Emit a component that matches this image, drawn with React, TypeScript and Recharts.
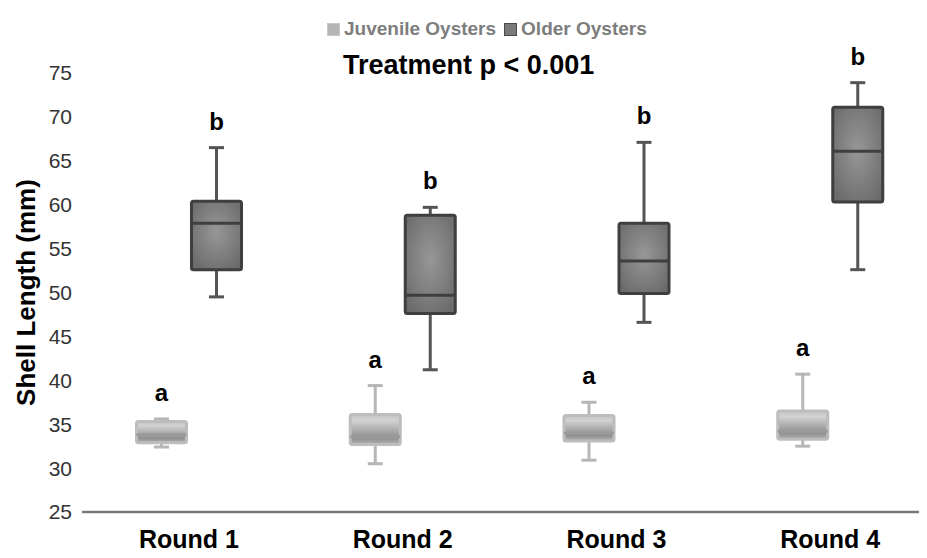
import React from 'react';
import { ComposedChart, Bar, XAxis, YAxis, Legend, LabelList } from 'recharts';

const categories = ['Round 1', 'Round 2', 'Round 3', 'Round 4'];

// box plot stats (mm)
const juvenileMin = [32.4, 30.5, 30.9, 32.5];
const juvenileQ1 = [32.9, 32.7, 33.1, 33.3];
const juvenileMedian = [33.8, 33.6, 34.0, 34.2];
const juvenileQ3 = [35.3, 36.1, 36.0, 36.5];
const juvenileMax = [35.6, 39.4, 37.5, 40.7];

const olderMin = [49.5, 41.2, 46.6, 52.6];
const olderQ1 = [52.6, 47.6, 49.9, 60.3];
const olderMedian = [57.9, 49.7, 53.6, 66.1];
const olderQ3 = [60.4, 58.8, 57.9, 71.1];
const olderMax = [66.5, 59.7, 67.1, 73.9];

const juvenileLetters = ['a', 'a', 'a', 'a'];
const olderLetters = ['b', 'b', 'b', 'b'];

const yTicks = [25, 30, 35, 40, 45, 50, 55, 60, 65, 70, 75];

const data = categories.map((round, i) => ({
  round,
  juvenileRange: [juvenileMin[i], juvenileMax[i]],
  juvenileMin: juvenileMin[i],
  juvenileQ1: juvenileQ1[i],
  juvenileMedian: juvenileMedian[i],
  juvenileQ3: juvenileQ3[i],
  juvenileMax: juvenileMax[i],
  juvenileLetter: juvenileLetters[i],
  olderRange: [olderMin[i], olderMax[i]],
  olderMin: olderMin[i],
  olderQ1: olderQ1[i],
  olderMedian: olderMedian[i],
  olderQ3: olderQ3[i],
  olderMax: olderMax[i],
  olderLetter: olderLetters[i],
}));

const styles = {
  juvenile: { fill: 'url(#juvGrad)', stroke: '#bdbdbd', whisker: '#b6b6b6', median: '#9a9a9a' },
  older: { fill: 'url(#oldGrad)', stroke: '#3f3f3f', whisker: '#555555', median: '#3f3f3f' },
};

const makeBox = (kind: 'juvenile' | 'older') => (props: any) => {
  const { x, y, width, height, payload } = props;
  const top = Math.min(y, y + height);
  const bottom = Math.max(y, y + height);
  const lo = payload[kind + 'Min'];
  const hi = payload[kind + 'Max'];
  const toY = (v: number) => top + ((hi - v) / (hi - lo)) * (bottom - top);
  const s = styles[kind];
  const cx = x + width / 2;
  const q1 = toY(payload[kind + 'Q1']);
  const q3 = toY(payload[kind + 'Q3']);
  const med = toY(payload[kind + 'Median']);
  const cap = 7.5;
  return (
    <g>
      <line x1={cx} x2={cx} y1={top} y2={q3} stroke={s.whisker} strokeWidth={3} />
      <line x1={cx} x2={cx} y1={q1} y2={bottom} stroke={s.whisker} strokeWidth={3} />
      <line x1={cx - cap} x2={cx + cap} y1={top} y2={top} stroke={s.whisker} strokeWidth={3} />
      <line x1={cx - cap} x2={cx + cap} y1={bottom} y2={bottom} stroke={s.whisker} strokeWidth={3} />
      <rect x={x + 1.5} y={q3} width={width - 3} height={q1 - q3} rx={2} fill={s.fill} stroke={s.stroke} strokeWidth={3} />
      <line x1={x + 1.5} x2={x + width - 1.5} y1={med} y2={med} stroke={s.median} strokeWidth={3} />
    </g>
  );
};

const LegendContent = () => (
  <div style={{ display: 'flex', alignItems: 'center', fontWeight: 700, fontSize: 19, color: '#7d7d7d', whiteSpace: 'nowrap' }}>
    <span style={{ width: 11, height: 11, background: '#b5b5b5', border: '1.5px solid #c8c8c8', marginRight: 4 }} />
    <span style={{ marginRight: 8 }}>Juvenile Oysters</span>
    <span style={{ width: 11, height: 11, background: '#7a7a7a', border: '1.5px solid #4a4a4a', marginRight: 4 }} />
    <span>Older Oysters</span>
  </div>
);

export default function App() {
  return (
    <div style={{ position: 'relative', width: 927, height: 558, overflow: 'hidden', margin: -8, background: '#fff', fontFamily: '"Liberation Sans", Arial, sans-serif' }}>
      <div style={{ position: 'absolute', left: 343, top: 50, fontSize: 27, fontWeight: 700, color: '#000', zIndex: 2 }}>
        Treatment p &lt; 0.001
      </div>
      <ComposedChart
        width={940}
        height={558}
        data={data}
        margin={{ top: 73, right: 3, bottom: 6, left: 22 }}
        barSize={53}
        barGap={2}
      >
        <defs>
          <linearGradient id="juvGrad" x1="0" y1="0" x2="0" y2="1">
            <stop offset="0%" stopColor="#c4c4c4" />
            <stop offset="20%" stopColor="#d2d2d2" />
            <stop offset="45%" stopColor="#b4b4b4" />
            <stop offset="78%" stopColor="#8f8f8f" />
            <stop offset="100%" stopColor="#b0b0b0" />
          </linearGradient>
          <radialGradient id="oldGrad" cx="50%" cy="45%" r="65%">
            <stop offset="0%" stopColor="#979797" />
            <stop offset="100%" stopColor="#6b6b6b" />
          </radialGradient>
        </defs>
        <XAxis
          dataKey="round"
          height={40}
          tickLine={false}
          tickMargin={12}
          axisLine={{ stroke: '#777777', strokeWidth: 2.5 }}
          tick={{ fill: '#000', fontSize: 25, fontWeight: 700 }}
        />
        <YAxis
          width={60}
          domain={[25, 75]}
          ticks={yTicks}
          interval={0}
          axisLine={false}
          tickLine={false}
          tickMargin={4}
          tick={{ fill: '#333333', fontSize: 21 }}
          label={{ value: 'Shell Length (mm)', angle: -90, position: 'insideLeft', offset: 4, style: { textAnchor: 'middle', fontWeight: 700, fontSize: 26, fill: '#000' } }}
        />
        <Legend
          layout="horizontal"
          verticalAlign="middle"
          align="center"
          wrapperStyle={{ top: 18, left: 327, width: 360 }}
          content={LegendContent}
        />
        <Bar dataKey="juvenileRange" name="Juvenile Oysters" shape={makeBox('juvenile')} isAnimationActive={false}>
          <LabelList dataKey="juvenileLetter" position="top" offset={18} fill="#000" fontSize={24} fontWeight={700} />
        </Bar>
        <Bar dataKey="olderRange" name="Older Oysters" shape={makeBox('older')} isAnimationActive={false}>
          <LabelList dataKey="olderLetter" position="top" offset={18} fill="#000" fontSize={24} fontWeight={700} />
        </Bar>
      </ComposedChart>
    </div>
  );
}
